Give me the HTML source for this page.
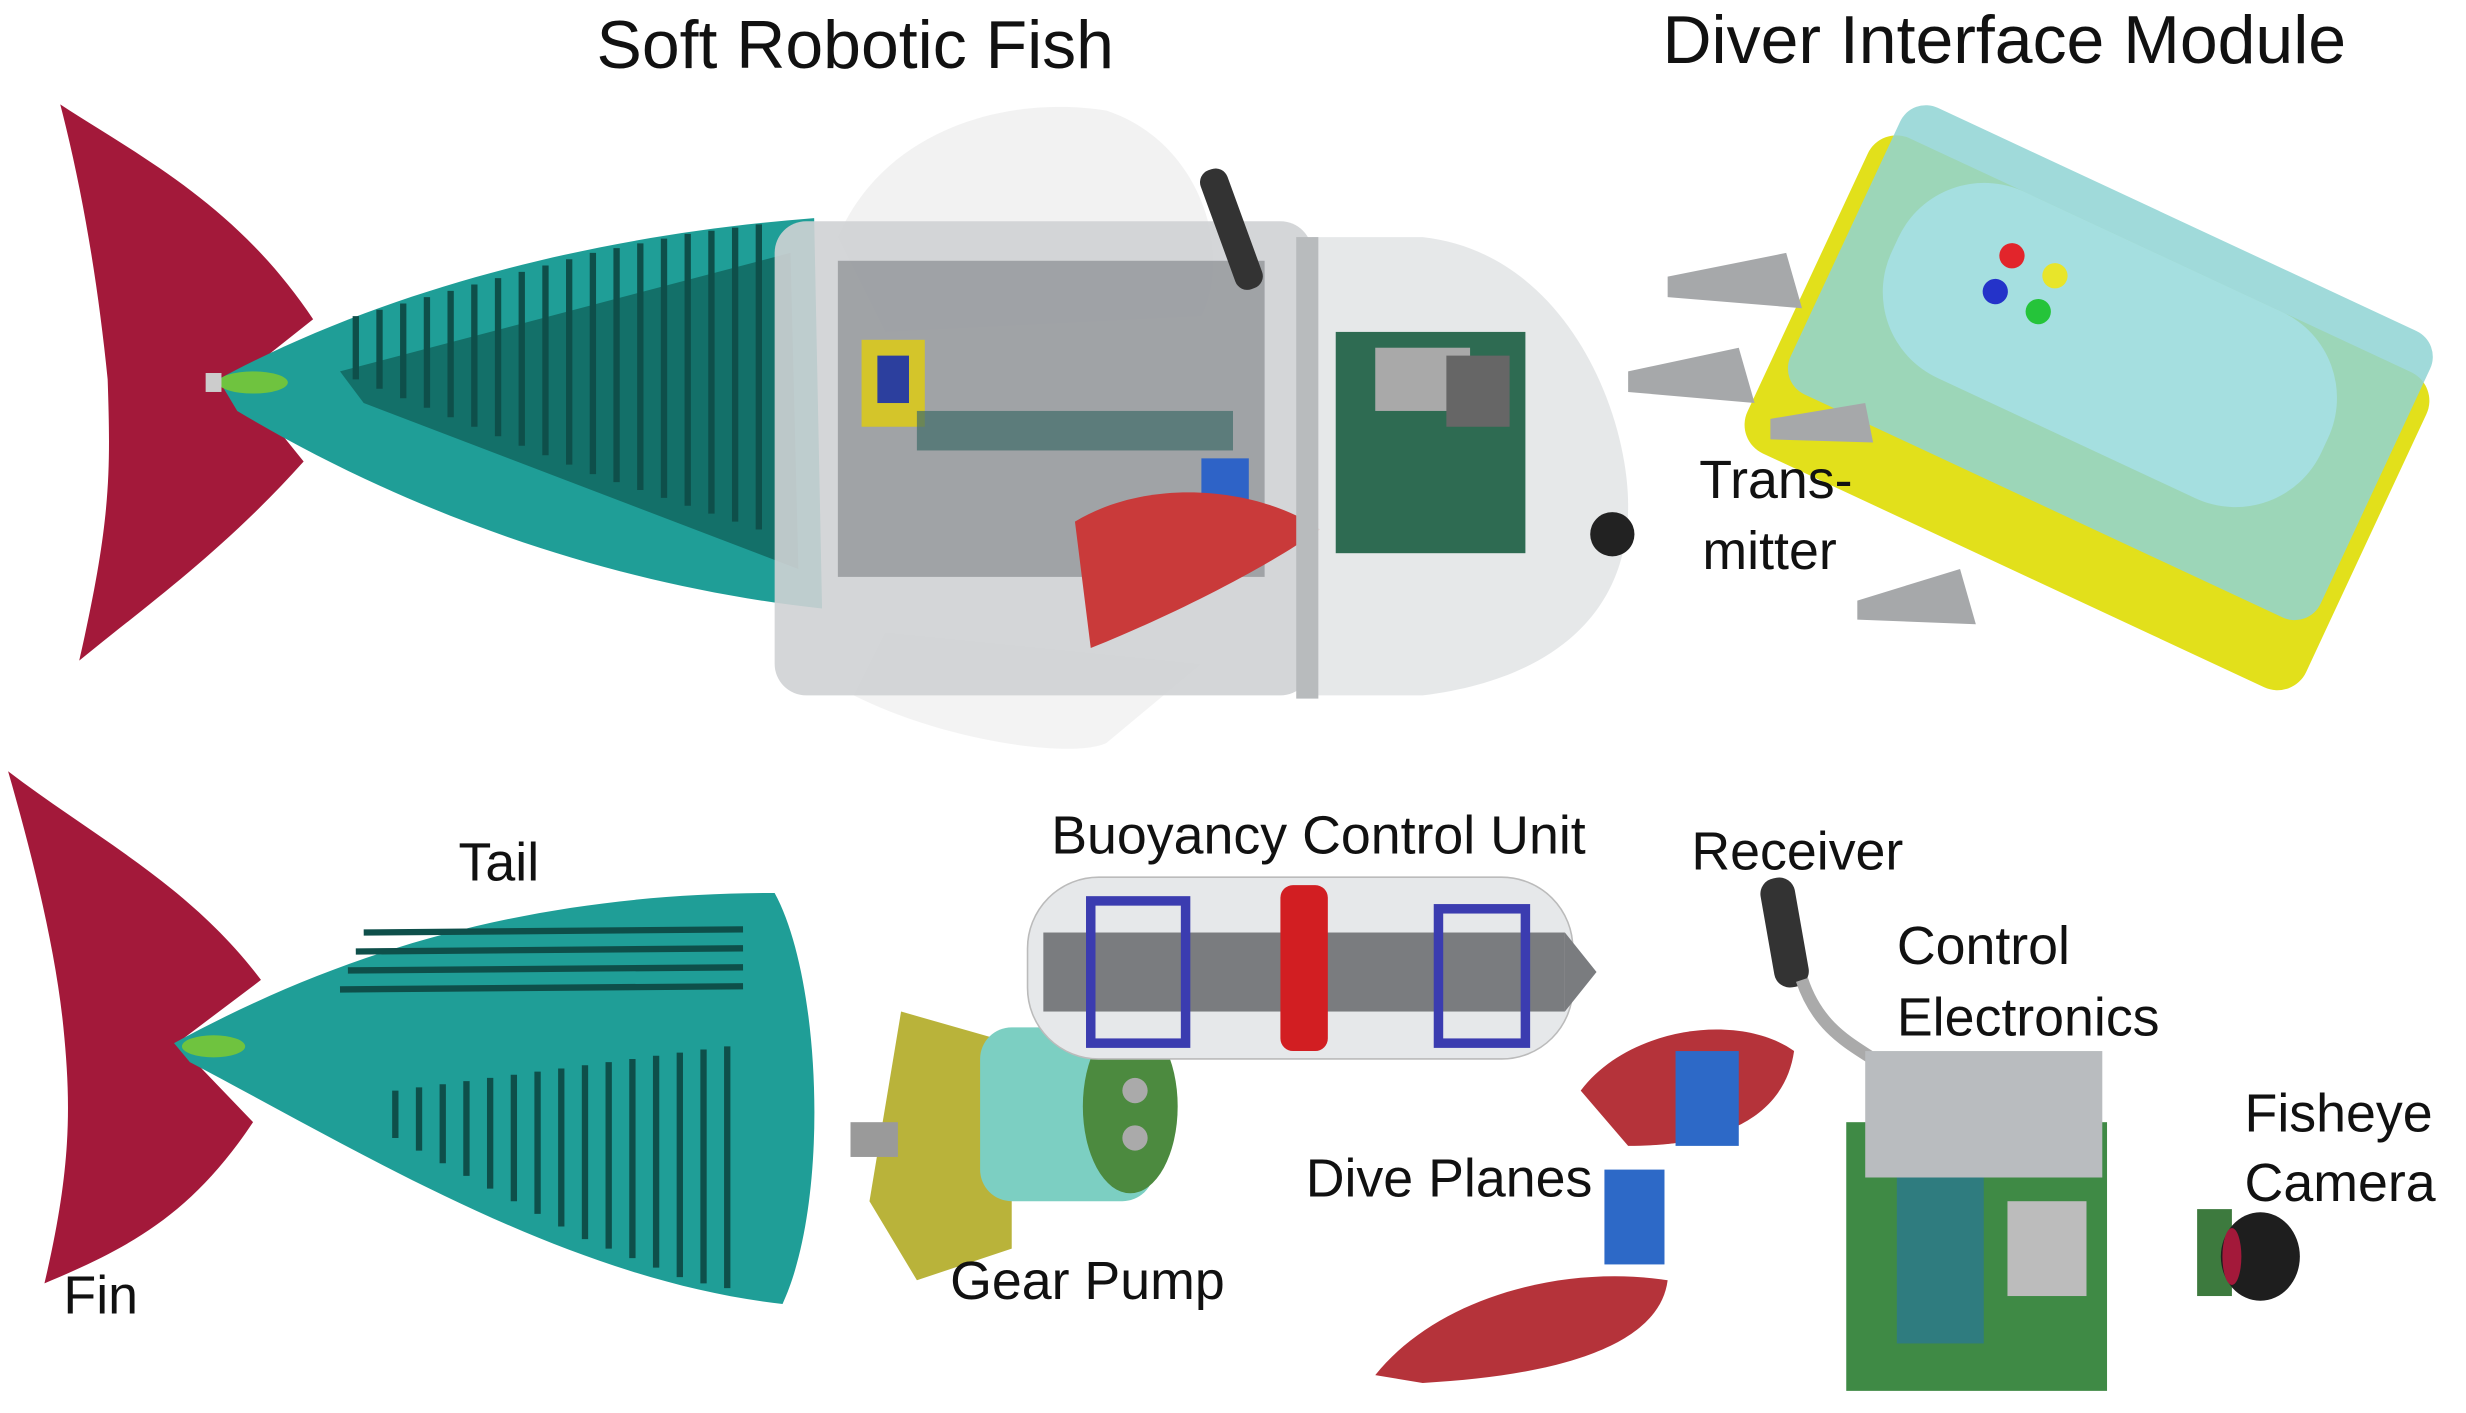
<!DOCTYPE html>
<html><head><meta charset="utf-8"><style>
html,body{margin:0;padding:0;background:#fff;}
svg{display:block;}
text{font-family:"Liberation Sans",sans-serif;fill:#111;}
</style></head><body>
<svg width="2466" height="1413" viewBox="0 0 1560 894" xmlns="http://www.w3.org/2000/svg">
<path d="M530,150 C560,80 640,60 700,70 C760,90 780,160 760,200 L560,210 Z" fill="#efefef" opacity="0.8"/>
<path d="M540,440 C600,470 680,480 700,470 L760,420 L560,400 Z" fill="#f0f0f0" opacity="0.8"/>
<path d="M38,66 C90,100 150,130 198,202 L150,240 L192,292 C140,350 90,385 50,418 C70,330 70,300 68,240 C62,180 52,120 38,66 Z" fill="#a3193a"/>
<path d="M138,240 C230,190 360,150 515,138 L520,385 C380,370 250,320 150,260 Z" fill="#1f9e97"/>
<path d="M215,235 L500,160 L505,360 L230,255 Z" fill="#137069"/>
<g stroke="#0e4f4a" stroke-width="4">
<line x1="225" y1="200" x2="225" y2="240"/><line x1="240" y1="196" x2="240" y2="246"/><line x1="255" y1="192" x2="255" y2="252"/><line x1="270" y1="188" x2="270" y2="258"/><line x1="285" y1="184" x2="285" y2="264"/><line x1="300" y1="180" x2="300" y2="270"/><line x1="315" y1="176" x2="315" y2="276"/><line x1="330" y1="172" x2="330" y2="282"/><line x1="345" y1="168" x2="345" y2="288"/><line x1="360" y1="164" x2="360" y2="294"/><line x1="375" y1="160" x2="375" y2="300"/><line x1="390" y1="157" x2="390" y2="305"/><line x1="405" y1="154" x2="405" y2="310"/><line x1="420" y1="151" x2="420" y2="315"/><line x1="435" y1="148" x2="435" y2="320"/><line x1="450" y1="146" x2="450" y2="325"/><line x1="465" y1="144" x2="465" y2="330"/><line x1="480" y1="142" x2="480" y2="335"/>
</g>
<ellipse cx="160" cy="242" rx="22" ry="7" fill="#6fc33f"/>
<rect x="130" y="236" width="10" height="12" fill="#ccc"/>
<rect x="490" y="140" width="340" height="300" rx="20" fill="#cfd2d4" opacity="0.9"/>
<rect x="530" y="165" width="270" height="200" fill="#7d8186" opacity="0.6"/>
<rect x="545" y="215" width="40" height="55" fill="#d4c52a"/>
<rect x="555" y="225" width="20" height="30" fill="#2c3f9e"/>
<rect x="580" y="260" width="200" height="25" fill="#3e6b6a" opacity="0.7"/>
<rect x="760" y="290" width="30" height="30" fill="#2e63c7"/>
<path d="M680,330 C730,300 800,310 835,335 C800,360 740,390 690,410 Z" fill="#c93a3a"/>
<rect x="770" y="105" width="18" height="80" rx="8" fill="#333" transform="rotate(-20 779 145)"/>
<path d="M830,150 L900,150 C990,160 1030,260 1030,320 C1030,390 980,430 900,440 L830,440 Z" fill="#e3e5e7" opacity="0.9"/>
<rect x="845" y="210" width="120" height="140" fill="#2e6b52"/>
<rect x="870" y="220" width="60" height="40" fill="#a9a9a9"/>
<rect x="915" y="225" width="40" height="45" fill="#666"/>
<circle cx="1020" cy="338" r="14" fill="#222"/>
<rect x="820" y="150" width="14" height="292" fill="#b8bbbd"/>
<text x="541" y="43" font-size="43" text-anchor="middle">Soft Robotic Fish</text>
<text x="1268" y="40" font-size="43" text-anchor="middle">Diver Interface Module</text>
<g transform="rotate(25 1320 250)">
<rect x="1130" y="150" width="390" height="220" rx="20" fill="#e2e01b"/>
<rect x="1140" y="125" width="370" height="200" rx="18" fill="#8fd3d4" opacity="0.85"/>
<rect x="1170" y="150" width="300" height="130" rx="60" fill="#a5dfe0"/>
<circle cx="1240" cy="190" r="8" fill="#e2252b"/><circle cx="1270" cy="190" r="8" fill="#e8e52a"/><circle cx="1240" cy="215" r="8" fill="#2433c9"/><circle cx="1270" cy="215" r="8" fill="#25c43a"/>
</g>
<g fill="#a6a8aa">
<path d="M1055,175 L1130,160 L1140,195 L1055,188 Z"/>
<path d="M1030,235 L1100,220 L1110,255 L1030,248 Z"/>
<path d="M1120,265 L1180,255 L1185,280 L1120,278 Z"/>
<path d="M1175,380 L1240,360 L1250,395 L1175,392 Z"/>
</g>
<text x="1075" y="315" font-size="34">Trans-</text>
<text x="1077" y="360" font-size="34">mitter</text>
<path d="M5,488 C60,530 120,560 165,620 L112,660 L160,710 C120,770 80,790 28,812 C45,740 45,700 40,650 C35,600 20,540 5,488 Z" fill="#a3193a"/>
<path d="M110,660 C220,600 340,565 490,565 C520,620 525,760 495,825 C360,810 230,730 120,672 Z" fill="#1f9e97"/>
<g stroke="#0e4f4a" stroke-width="4">
<line x1="230" y1="590" x2="470" y2="588"/><line x1="225" y1="602" x2="470" y2="600"/><line x1="220" y1="614" x2="470" y2="612"/><line x1="215" y1="626" x2="470" y2="624"/>
<line x1="250" y1="690" x2="250" y2="720"/><line x1="265" y1="688" x2="265" y2="728"/><line x1="280" y1="686" x2="280" y2="736"/><line x1="295" y1="684" x2="295" y2="744"/><line x1="310" y1="682" x2="310" y2="752"/><line x1="325" y1="680" x2="325" y2="760"/><line x1="340" y1="678" x2="340" y2="768"/><line x1="355" y1="676" x2="355" y2="776"/><line x1="370" y1="674" x2="370" y2="784"/><line x1="385" y1="672" x2="385" y2="790"/><line x1="400" y1="670" x2="400" y2="796"/><line x1="415" y1="668" x2="415" y2="802"/><line x1="430" y1="666" x2="430" y2="808"/><line x1="445" y1="664" x2="445" y2="812"/><line x1="460" y1="662" x2="460" y2="815"/>
</g>
<ellipse cx="135" cy="662" rx="20" ry="7" fill="#6fc33f"/>
<text x="290" y="557" font-size="34">Tail</text>
<text x="40" y="831" font-size="34">Fin</text>
<path d="M570,640 L640,660 L640,790 L580,810 L550,760 Z" fill="#b9b33a"/>
<rect x="620" y="650" width="110" height="110" rx="20" fill="#7ccfc2"/>
<ellipse cx="715" cy="700" rx="30" ry="55" fill="#4c8a3f"/>
<circle cx="718" cy="690" r="8" fill="#aaa"/><circle cx="718" cy="720" r="8" fill="#aaa"/>
<rect x="538" y="710" width="30" height="22" fill="#9a9a9a"/>
<text x="601" y="822" font-size="34">Gear Pump</text>
<rect x="650" y="555" width="345" height="115" rx="45" fill="#e6e8ea" stroke="#bbb"/>
<rect x="660" y="590" width="330" height="50" fill="#7a7c7f"/>
<path d="M990,590 L1010,615 L990,640 Z" fill="#7a7c7f"/>
<rect x="690" y="570" width="60" height="90" fill="none" stroke="#3b3cb0" stroke-width="6"/>
<rect x="910" y="575" width="55" height="85" fill="none" stroke="#3b3cb0" stroke-width="6"/>
<rect x="810" y="560" width="30" height="105" rx="8" fill="#d21e22"/>
<text x="665" y="540" font-size="34">Buoyancy Control Unit</text>
<path d="M1000,690 C1030,650 1100,640 1135,665 C1130,700 1100,725 1030,725 Z" fill="#b5333a"/>
<rect x="1060" y="665" width="40" height="60" fill="#2d69c7"/>
<path d="M870,870 C910,820 990,800 1055,810 C1050,850 990,870 900,875 Z" fill="#b5333a"/>
<rect x="1015" y="740" width="38" height="60" fill="#2d69c7"/>
<text x="826" y="757" font-size="34">Dive Planes</text>
<rect x="1118" y="555" width="22" height="70" rx="10" fill="#333" transform="rotate(-10 1129 590)"/>
<path d="M1140,620 C1150,650 1170,660 1185,670" stroke="#aaa" stroke-width="8" fill="none"/>
<rect x="1168" y="710" width="165" height="170" fill="#3f8a45"/>
<rect x="1200" y="740" width="55" height="110" fill="#2f7c7f"/>
<rect x="1180" y="665" width="150" height="80" fill="#b9bcbf"/>
<rect x="1270" y="760" width="50" height="60" fill="#bcbcbc"/>
<text x="1070" y="550" font-size="34">Receiver</text>
<text x="1200" y="610" font-size="34">Control</text>
<text x="1200" y="655" font-size="34">Electronics</text>
<rect x="1390" y="765" width="22" height="55" fill="#3d7a3e"/>
<ellipse cx="1430" cy="795" rx="25" ry="28" fill="#1e1e1e"/>
<ellipse cx="1412" cy="795" rx="6" ry="18" fill="#a3193a"/>
<text x="1420" y="716" font-size="34">Fisheye</text>
<text x="1420" y="760" font-size="34">Camera</text>
</svg>
</body></html>
